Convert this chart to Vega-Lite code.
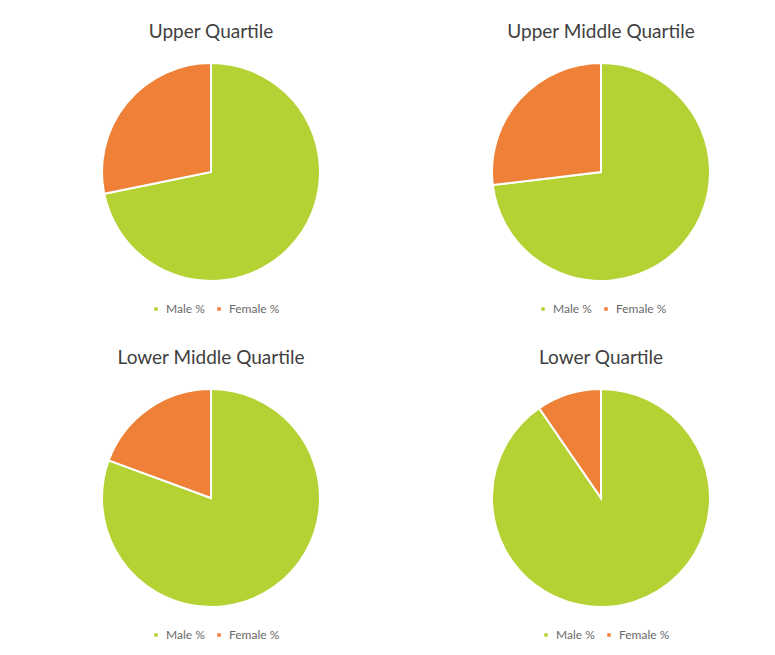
{
  "$schema": "https://vega.github.io/schema/vega-lite/v6.json",
  "padding": {"top": 23, "left": 41, "right": 0, "bottom": 0},
  "background": "white",
  "datasets": {
    "d": [
      {"quartile": "Upper Quartile", "gender": "Male %", "pct": 71.8, "ord": 1},
      {"quartile": "Upper Quartile", "gender": "Female %", "pct": 28.2, "ord": 2},
      {"quartile": "Upper Middle Quartile", "gender": "Male %", "pct": 73.1, "ord": 1},
      {"quartile": "Upper Middle Quartile", "gender": "Female %", "pct": 26.9, "ord": 2},
      {"quartile": "Lower Middle Quartile", "gender": "Male %", "pct": 80.6, "ord": 1},
      {"quartile": "Lower Middle Quartile", "gender": "Female %", "pct": 19.4, "ord": 2},
      {"quartile": "Lower Quartile", "gender": "Male %", "pct": 90.4, "ord": 1},
      {"quartile": "Lower Quartile", "gender": "Female %", "pct": 9.6, "ord": 2}
    ]
  },
  "resolve": {"scale": {"color": "independent"}},
  "spacing": 34,
  "vconcat": [
    {
      "hconcat": [
        {
          "title": "Upper Quartile",
          "width": 340, "height": 230,
          "data": {"name": "d"},
          "transform": [{"filter": "datum.quartile == 'Upper Quartile'"}],
          "mark": {"type": "arc", "outerRadius": 109, "stroke": "white", "strokeWidth": 2},
          "encoding": {
            "theta": {"field": "pct", "type": "quantitative", "stack": true},
            "order": {"field": "ord", "type": "quantitative"},
            "color": {"field": "gender", "type": "nominal", "scale": {"domain": ["Male %", "Female %"], "range": ["#b5d234", "#ef8038"]}, "legend": {"title": null, "orient": "none", "legendX": 109, "legendY": 246}}
          }
        },
        {
          "title": "Upper Middle Quartile",
          "width": 340, "height": 230,
          "data": {"name": "d"},
          "transform": [{"filter": "datum.quartile == 'Upper Middle Quartile'"}],
          "mark": {"type": "arc", "outerRadius": 109, "stroke": "white", "strokeWidth": 2},
          "encoding": {
            "theta": {"field": "pct", "type": "quantitative", "stack": true},
            "order": {"field": "ord", "type": "quantitative"},
            "color": {"field": "gender", "type": "nominal", "scale": {"domain": ["Male %", "Female %"], "range": ["#b5d234", "#ef8038"]}, "legend": {"title": null, "orient": "none", "legendX": 106, "legendY": 246}}
          }
        }
      ],
      "spacing": 50,
      "resolve": {"scale": {"color": "independent"}}
    },
    {
      "hconcat": [
        {
          "title": "Lower Middle Quartile",
          "width": 340, "height": 230,
          "data": {"name": "d"},
          "transform": [{"filter": "datum.quartile == 'Lower Middle Quartile'"}],
          "mark": {"type": "arc", "outerRadius": 109, "stroke": "white", "strokeWidth": 2},
          "encoding": {
            "theta": {"field": "pct", "type": "quantitative", "stack": true},
            "order": {"field": "ord", "type": "quantitative"},
            "color": {"field": "gender", "type": "nominal", "scale": {"domain": ["Male %", "Female %"], "range": ["#b5d234", "#ef8038"]}, "legend": {"title": null, "orient": "none", "legendX": 109, "legendY": 246}}
          }
        },
        {
          "title": "Lower Quartile",
          "width": 340, "height": 230,
          "data": {"name": "d"},
          "transform": [{"filter": "datum.quartile == 'Lower Quartile'"}],
          "mark": {"type": "arc", "outerRadius": 109, "stroke": "white", "strokeWidth": 2},
          "encoding": {
            "theta": {"field": "pct", "type": "quantitative", "stack": true},
            "order": {"field": "ord", "type": "quantitative"},
            "color": {"field": "gender", "type": "nominal", "scale": {"domain": ["Male %", "Female %"], "range": ["#b5d234", "#ef8038"]}, "legend": {"title": null, "orient": "none", "legendX": 109, "legendY": 246}}
          }
        }
      ],
      "spacing": 50,
      "resolve": {"scale": {"color": "independent"}}
    }
  ],
  "config": {
    "view": {"stroke": null},
    "font": "Lato",
    "title": {"fontSize": 19, "fontWeight": "normal", "color": "#404040", "offset": 15, "anchor": "middle"},
    "legend": {"direction": "horizontal", "symbolType": "square", "symbolSize": 25, "labelFontSize": 12, "labelColor": "#6a6a6a", "columnPadding": 8, "symbolOffset": 0, "labelOffset": 4}
  }
}
